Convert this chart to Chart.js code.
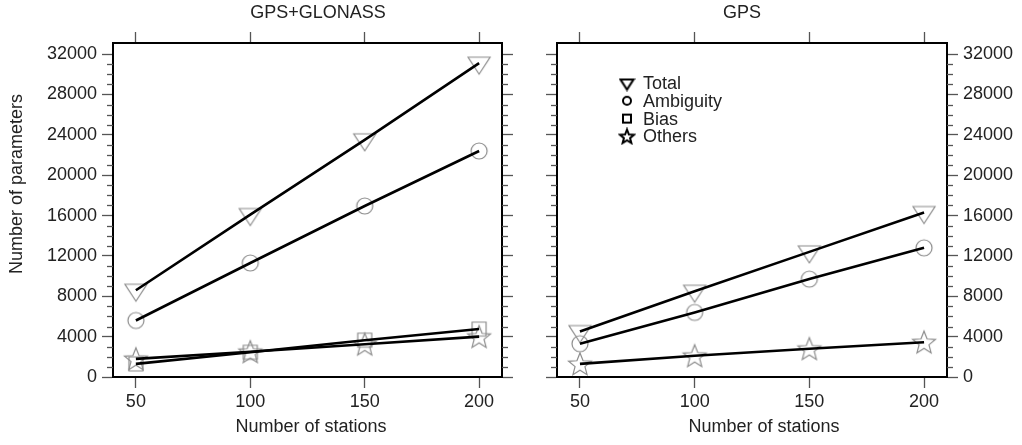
<!DOCTYPE html>
<html><head><meta charset="utf-8">
<script src="https://cdn.jsdelivr.net/npm/chart.js@4.4.0/dist/chart.umd.min.js"></script>
<style>
html,body{margin:0;padding:0;background:#fff;width:1022px;height:445px;overflow:hidden}
canvas{position:absolute;left:0;top:0}
</style></head><body>
<canvas id="c1" width="1022" height="445"></canvas>
<canvas id="c2" width="1022" height="445"></canvas>
<script>
// ---------- data ----------
const stations = [50, 100, 150, 200];
const ggTotal = [8600, 16100, 23500, 31100];
const ggAmbiguity = [5600, 11300, 16950, 22400];
const ggBias = [1300, 2450, 3650, 4750];
const ggOthers = [1800, 2500, 3250, 4000];
const gpsTotal = [4500, 8500, 12400, 16300];
const gpsAmbiguity = [3300, 6400, 9700, 12800];
const gpsOthers = [1300, 2100, 2800, 3450];
const yTickValues = [0, 4000, 8000, 12000, 16000, 20000, 24000, 28000, 32000];
const xTickValues = [50, 100, 150, 200];
const legendLabels = ['Total', 'Ambiguity', 'Bias', 'Others'];
const panelTitles = ['GPS+GLONASS', 'GPS'];
const xTitle = 'Number of stations';
const yTitle = 'Number of parameters';

const FONT = '"Liberation Sans", Arial, Helvetica, sans-serif';
const GRAY = '#8c8c8c';

function makeMarker(type, scale, color, lw) {
  const c = document.createElement('canvas');
  const S = Math.ceil(28 * scale);
  c.width = S; c.height = S;
  const g = c.getContext('2d');
  g.translate(S / 2, S / 2);
  g.scale(scale, scale);
  g.strokeStyle = color; g.lineWidth = lw / scale; g.lineJoin = 'miter';
  g.beginPath();
  if (type === 'tri') {
    g.moveTo(-11, -6); g.lineTo(11, -6); g.lineTo(0, 11); g.closePath();
  } else if (type === 'circle') {
    g.arc(0, 0, 8, 0, Math.PI * 2);
  } else if (type === 'square') {
    g.rect(-7, -7, 14, 14);
  } else if (type === 'star') {
    const R = 12, r = 5.2;
    for (let i = 0; i < 10; i++) {
      const rad = i % 2 === 0 ? R : r;
      const a = -Math.PI / 2 + i * Math.PI / 5;
      const px = rad * Math.cos(a), py = rad * Math.sin(a) + 1;
      if (i === 0) g.moveTo(px, py); else g.lineTo(px, py);
    }
    g.closePath();
  }
  g.stroke();
  return c;
}
const markerTypes = ['tri', 'circle', 'square', 'star'];
const grayMarkers = {};
markerTypes.forEach(t => grayMarkers[t] = makeMarker(t, 1, GRAY, 1.2));
const legendMarkers = {
  tri: makeMarker('tri', 0.6, '#000', 2),
  circle: makeMarker('circle', 0.5, '#000', 2),
  square: makeMarker('square', 0.57, '#000', 2),
  star: makeMarker('star', 0.62, '#000', 2)
};

function pts(arr) { return stations.map((x, i) => ({ x: x, y: arr[i] })); }

function seriesDatasets(arr, marker) {
  return [
    { data: pts(arr), borderColor: '#000', borderWidth: 2.6, pointRadius: 0, fill: false, order: 0, xAxisID: 'x', yAxisID: 'y' },
    { data: pts(arr), showLine: false, pointStyle: grayMarkers[marker], pointRadius: 10, order: 1, xAxisID: 'x', yAxisID: 'y' }
  ];
}

function xAxis(pos, height) {
  return {
    type: 'linear', position: pos, min: 40, max: 210,
    afterBuildTicks: s => { s.ticks = xTickValues.map(v => ({ value: v })); },
    afterFit: s => { s.height = height; },
    border: { display: true, color: '#000', width: 2 },
    grid: { drawOnChartArea: false, drawTicks: true, tickLength: 11, tickColor: '#555', tickWidth: 1.3 },
    ticks: { display: pos === 'bottom', color: '#222', font: { family: FONT, size: 18 }, padding: 3, maxRotation: 0,
      callback: v => String(v) }
  };
}
function yAxis(pos, showLabels, width) {
  return {
    type: 'linear', position: pos, min: 0, max: 33100,
    afterBuildTicks: s => { s.ticks = yTickValues.map(v => ({ value: v })); },
    afterFit: s => { s.width = width; },
    border: { display: true, color: '#000', width: 2 },
    grid: { drawOnChartArea: false, drawTicks: true, tickLength: 11, tickColor: '#555', tickWidth: 1.3 },
    ticks: { display: showLabels, color: '#222', font: { family: FONT, size: 18 }, padding: 5,
      callback: v => String(v) }
  };
}

const decorPlugin = {
  id: 'decor',
  afterDraw(chart, args, opts) {
    const ctx = chart.ctx;
    ctx.save();
    // minor y ticks every 1000
    ['y', 'y2'].forEach(id => {
      const s = chart.scales[id];
      const edge = s.position === 'left' ? s.right : s.left;
      const dir = s.position === 'left' ? -1 : 1;
      ctx.strokeStyle = '#555'; ctx.lineWidth = 1.3;
      for (let v = 1000; v < 33000; v += 1000) {
        if (v % 4000 === 0) continue;
        const py = Math.round(s.getPixelForValue(v)) + 0.5;
        ctx.beginPath(); ctx.moveTo(edge, py); ctx.lineTo(edge + dir * 6, py); ctx.stroke();
      }
    });
    // texts
    ctx.fillStyle = '#222';
    ctx.font = '18px ' + FONT;
    ctx.textBaseline = 'middle';
    ctx.textAlign = 'center';
    (opts.texts || []).forEach(t => {
      ctx.save();
      ctx.translate(t.x, t.y);
      if (t.rot) ctx.rotate(t.rot);
      ctx.fillText(t.text, 0, 0);
      ctx.restore();
    });
    // legend
    if (opts.legend) {
      const L = opts.legend;
      ctx.textAlign = 'left';
      legendLabels.forEach((lab, i) => {
        const y = L.y + i * L.dy;
        const m = legendMarkers[markerTypes[i]];
        ctx.drawImage(m, L.x - m.width / 2, y - m.height / 2);
        ctx.fillText(lab, L.x + 16, y + 1);
      });
    }
    ctx.restore();
  }
};

function makeChart(id, datasets, yLeftLabels, leftW, rightW, texts, legend) {
  return new Chart(document.getElementById(id), {
    type: 'line',
    data: { datasets: datasets },
    options: {
      responsive: false, animation: false, devicePixelRatio: 1,
      layout: { padding: 0 },
      plugins: { legend: { display: false }, tooltip: { enabled: false }, title: { display: false },
        decor: { texts: texts, legend: legend } },
      scales: {
        x: xAxis('bottom', 68),
        x2: xAxis('top', 43),
        y: yAxis('left', yLeftLabels, leftW),
        y2: yAxis('right', !yLeftLabels, rightW)
      }
    },
    plugins: [decorPlugin]
  });
}

makeChart('c1',
  [].concat(seriesDatasets(ggTotal, 'tri'), seriesDatasets(ggAmbiguity, 'circle'),
            seriesDatasets(ggBias, 'square'), seriesDatasets(ggOthers, 'star')),
  true, 113, 1022 - 502,
  [ { text: panelTitles[0], x: 318, y: 13 },
    { text: xTitle, x: 311, y: 427 },
    { text: yTitle, x: 17, y: 184, rot: -Math.PI / 2 } ],
  null);

makeChart('c2',
  [].concat(seriesDatasets(gpsTotal, 'tri'), seriesDatasets(gpsAmbiguity, 'circle'),
            seriesDatasets(gpsOthers, 'star')),
  false, 557, 1022 - 947,
  [ { text: panelTitles[1], x: 742, y: 13 },
    { text: xTitle, x: 764, y: 427 } ],
  { x: 627, y: 83, dy: 17.8 });
</script>
</body></html>
